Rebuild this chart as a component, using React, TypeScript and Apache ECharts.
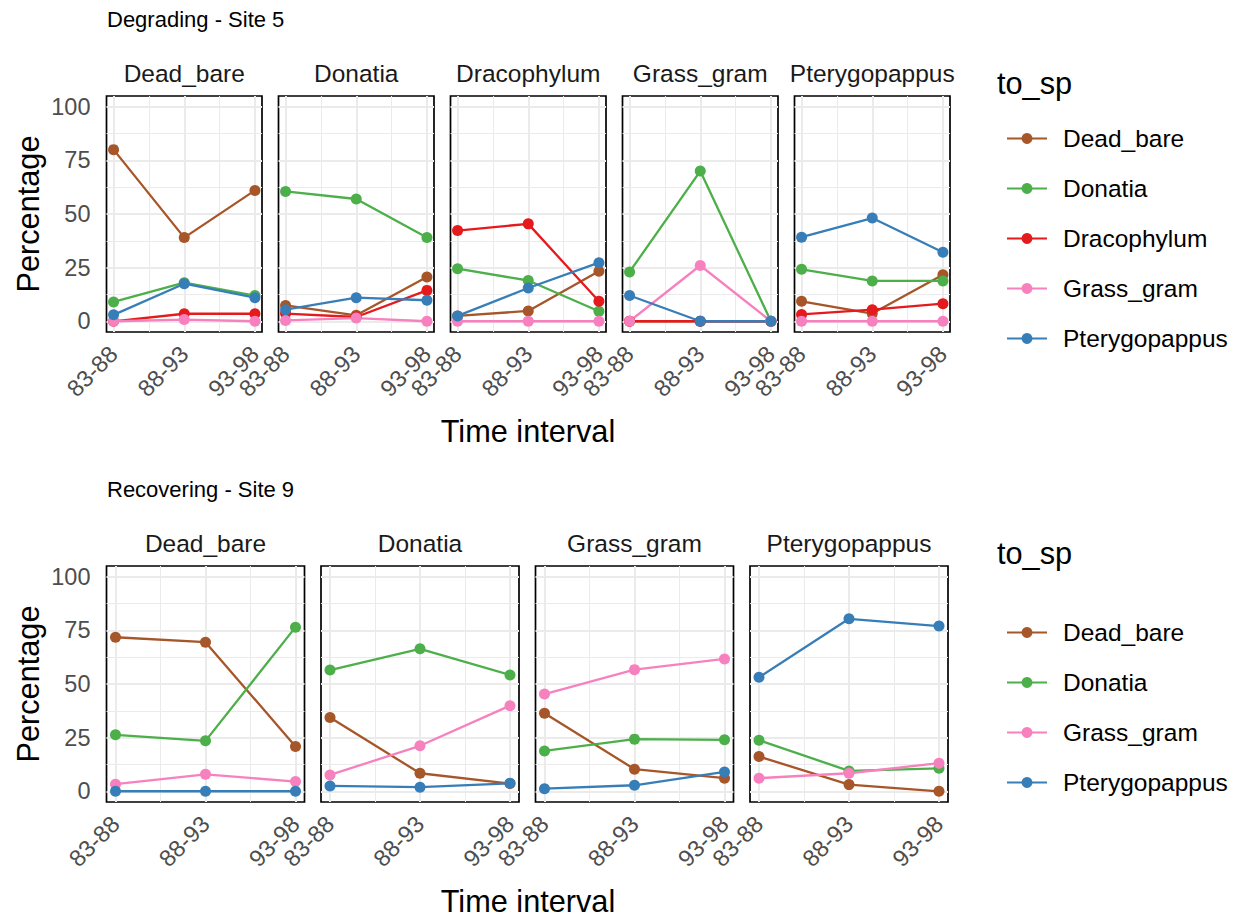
import React, { useEffect, useRef } from "react";
import * as echarts from "echarts";

// ---------- data ----------
const intervals = ["83-88", "88-93", "93-98"];
const speciesNames = ["Dead_bare", "Donatia", "Dracophylum", "Grass_gram", "Pterygopappus"];
const speciesColors = ["#A65628", "#4DAF4A", "#E41A1C", "#F781BF", "#377EB8"];

// Degrading - Site 5 (facet = from species); rows follow degSpecies order
const degPanels = ["Dead_bare", "Donatia", "Dracophylum", "Grass_gram", "Pterygopappus"];
const degSpecies = ["Dead_bare", "Donatia", "Dracophylum", "Grass_gram", "Pterygopappus"];
const degDeadBare = [[80, 39, 61], [9, 18, 12], [0, 3.5, 3.5], [0, 0.8, 0], [3, 17.5, 11]];
const degDonatia = [[7.4, 2.8, 20.6], [60.5, 57, 39], [3.6, 2, 14.4], [0.4, 1.5, 0], [5.4, 11, 9.8]];
const degDracophylum = [[2.5, 4.8, 23.3], [24.5, 19, 4.7], [42.3, 45.4, 9.3], [0, 0, 0], [2.5, 15.5, 27.3]];
const degGrassGram = [[0, 0, 0], [23, 70, 0], [0, 0, 0], [0, 26, 0], [12, 0, 0]];
const degPterygopappus = [[9.3, 3.6, 21.7], [24.2, 18.8, 18.8], [3.2, 5.4, 8.2], [0, 0, 0], [39.2, 48.1, 32.2]];
const degValues = [degDeadBare, degDonatia, degDracophylum, degGrassGram, degPterygopappus];

// Recovering - Site 9
const recPanels = ["Dead_bare", "Donatia", "Grass_gram", "Pterygopappus"];
const recSpecies = ["Dead_bare", "Donatia", "Grass_gram", "Pterygopappus"];
const recDeadBare = [[71.8, 69.5, 20.9], [26.3, 23.5, 76.5], [3.3, 7.9, 4.5], [0, 0, 0]];
const recDonatia = [[34.4, 8.4, 3.6], [56.5, 66.4, 54.2], [7.6, 21.2, 39.9], [2.5, 1.9, 3.7]];
const recGrassGram = [[36.4, 10.3, 6.1], [18.8, 24.3, 24], [45.3, 56.7, 61.7], [1.2, 2.8, 9]];
const recPterygopappus = [[16.2, 3.1, 0], [23.8, 9.5, 10.7], [6.1, 8.4, 13.1], [53.1, 80.4, 77]];
const recValues = [recDeadBare, recDonatia, recGrassGram, recPterygopappus];

const yTicks = [0, 25, 50, 75, 100];
const yMinorTicks = [12.5, 37.5, 62.5, 87.5];
const xTicks = [1, 2, 3];
const xMinorTicks = [1.5, 2.5];

// ---------- style ----------
const FONT = "'Liberation Sans', Arial, Helvetica, sans-serif";
const TICK_SIZE = 23.5;
const STRIP_SIZE = 24.5;
const TITLE_SIZE = 30.7;
const PANEL_H = 236;

function colorOf(name: string) {
  return speciesColors[speciesNames.indexOf(name)];
}

function buildOption() {
  const grids: any[] = [];
  const xAxes: any[] = [];
  const yAxes: any[] = [];
  const series: any[] = [];
  const graphics: any[] = [];

  const addRow = (
    panels: string[],
    species: string[],
    values: number[][][],
    top: number,
    left0: number,
    step: number,
    width: number
  ) => {
    panels.forEach((panel, p) => {
      const gi = grids.length;
      const left = left0 + p * step;
      grids.push({
        left,
        top,
        width,
        height: PANEL_H,
        show: true,
        borderColor: "#000",
        borderWidth: 1.7,
        backgroundColor: "transparent",
        containLabel: false,
      });
      const xi = xAxes.length;
      xAxes.push({
        type: "value",
        gridIndex: gi,
        min: 0.9,
        max: 3.1,
        position: "bottom",
        axisLine: { show: false },
        axisTick: { show: false, customValues: xTicks },
        axisLabel: {
          customValues: xTicks,
          formatter: (v: number) => intervals[Math.round(v) - 1] ?? "",
          rotate: 45,
          margin: 18,
          padding: [26, 0, 0, 0],
          fontSize: TICK_SIZE,
          fontFamily: FONT,
          color: "#4D4D4D",
        },
        splitLine: { show: true, customValues: xTicks, lineStyle: { color: "#EBEBEB", width: 2 } },
      });
      xAxes.push({
        type: "value",
        gridIndex: gi,
        min: 0.9,
        max: 3.1,
        position: "bottom",
        axisLine: { show: false },
        axisTick: { show: false, customValues: xMinorTicks },
        axisLabel: { show: false },
        splitLine: { show: true, customValues: xMinorTicks, lineStyle: { color: "#EBEBEB", width: 1 } },
      });
      const yi = yAxes.length;
      yAxes.push({
        type: "value",
        gridIndex: gi,
        min: -5,
        max: 105,
        axisLine: { show: false },
        axisTick: { show: false, customValues: yTicks },
        axisLabel: {
          show: p === 0,
          customValues: yTicks,
          margin: 16,
          fontSize: TICK_SIZE,
          fontFamily: FONT,
          color: "#4D4D4D",
        },
        splitLine: { show: true, customValues: yTicks, lineStyle: { color: "#EBEBEB", width: 2 } },
      });
      yAxes.push({
        type: "value",
        gridIndex: gi,
        min: -5,
        max: 105,
        axisLine: { show: false },
        axisTick: { show: false, customValues: yMinorTicks },
        axisLabel: { show: false },
        splitLine: { show: true, customValues: yMinorTicks, lineStyle: { color: "#EBEBEB", width: 1 } },
      });
      species.forEach((sp, s) => {
        const c = colorOf(sp);
        series.push({
          type: "line",
          name: sp,
          xAxisIndex: xi,
          yAxisIndex: yi,
          data: values[p][s].map((v, i) => [xTicks[i], v]),
          symbol: "circle",
          symbolSize: 11,
          showSymbol: true,
          clip: false,
          lineStyle: { width: 2.3, color: c },
          itemStyle: { color: c },
          emphasis: { disabled: true },
          z: 3,
        });
      });
      graphics.push({
        type: "text",
        x: left + width / 2,
        y: top - 23,
        style: {
          text: panel,
          fill: "#1A1A1A",
          fontSize: STRIP_SIZE,
          fontFamily: FONT,
          align: "center",
          verticalAlign: "middle",
        },
      });
    });
  };

  const topRow = 96;
  const botRow = 566;
  addRow(degPanels, degSpecies, degValues, topRow, 106.5, 172, 155.5);
  addRow(recPanels, recSpecies, recValues, botRow, 106.5, 214.5, 198);

  const rowTexts = [
    { title: "Degrading - Site 5", top: topRow },
    { title: "Recovering - Site 9", top: botRow },
  ];
  rowTexts.forEach((r) => {
    graphics.push({
      type: "text",
      x: 107,
      y: r.top - 77,
      style: { text: r.title, fill: "#000", fontSize: 22, fontFamily: FONT, align: "left", verticalAlign: "middle" },
    });
    graphics.push({
      type: "text",
      x: 28,
      y: r.top + 118,
      rotation: Math.PI / 2,
      style: {
        text: "Percentage",
        fill: "#000",
        fontSize: TITLE_SIZE,
        fontFamily: FONT,
        align: "center",
        verticalAlign: "middle",
      },
    });
    graphics.push({
      type: "text",
      x: 528,
      y: r.top + 335,
      style: {
        text: "Time interval",
        fill: "#000",
        fontSize: TITLE_SIZE,
        fontFamily: FONT,
        align: "center",
        verticalAlign: "middle",
      },
    });
    graphics.push({
      type: "text",
      x: 997,
      y: r.top - 13,
      style: { text: "to_sp", fill: "#000", fontSize: TITLE_SIZE, fontFamily: FONT, align: "left", verticalAlign: "middle" },
    });
  });

  const legendBase = {
    orient: "vertical",
    left: 1001,
    itemWidth: 40,
    itemHeight: 13.5,
    itemGap: 25,
    selectedMode: false,
    textStyle: { fontSize: STRIP_SIZE, fontFamily: FONT, color: "#000", padding: [0, 0, 0, 11] },
  };

  return {
    animation: false,
    backgroundColor: "#fff",
    grid: grids,
    xAxis: xAxes,
    yAxis: yAxes,
    series,
    legend: [
      { ...legendBase, top: topRow + 25, data: degSpecies },
      { ...legendBase, top: botRow + 49, data: recSpecies },
    ],
    graphic: graphics,
  };
}

export default function App() {
  const ref = useRef<HTMLDivElement>(null);
  useEffect(() => {
    if (!ref.current) return;
    const chart = echarts.init(ref.current, undefined, { renderer: "svg" });
    chart.setOption(buildOption() as any);
    return () => chart.dispose();
  }, []);
  return (
    <div
      ref={ref}
      style={{ position: "absolute", left: 0, top: 0, width: 1251, height: 919, background: "#fff" }}
    />
  );
}
